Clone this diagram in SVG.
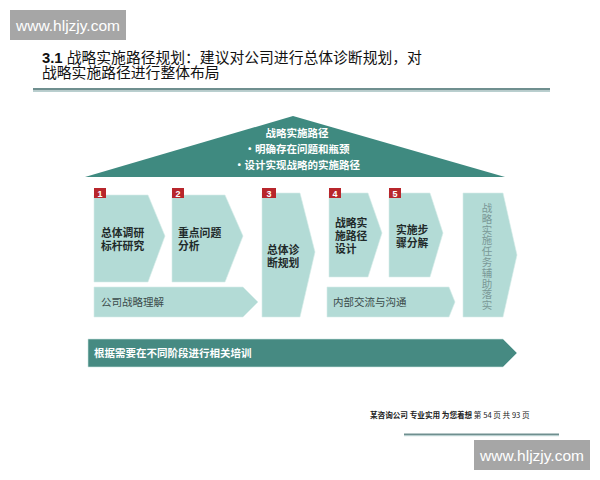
<svg xmlns="http://www.w3.org/2000/svg" width="600" height="480" viewBox="0 0 600 480">
<defs>
<style>
.cjk{font-family:"Liberation Serif","Noto Sans CJK SC",serif;}
.wm{font-family:"Liberation Sans",Arial,sans-serif;font-size:15.5px;fill:#ffffff;}
.chev{fill:#b3dbd6;stroke:#d6ecea;stroke-width:0.6;}
.lbl{font-family:"Noto Sans CJK SC",sans-serif;font-size:10.8px;font-weight:700;fill:#1f2a2a;}
.sub{font-family:"Noto Sans CJK SC",sans-serif;font-size:10.5px;fill:#3a4a4a;}
.badge{fill:#b8262c;}
.num{font-family:"Liberation Sans",Arial,sans-serif;font-size:9px;font-weight:700;fill:#ffffff;text-anchor:middle;}
.roof{font-family:"Noto Sans CJK SC",sans-serif;font-size:10.5px;font-weight:700;fill:#ffffff;text-anchor:middle;}
.vt{font-family:"Noto Sans CJK SC",sans-serif;font-size:10.5px;fill:#7a9896;text-anchor:middle;}
</style>
</defs>
<rect width="600" height="480" fill="#ffffff"/>

<g id="watermark-top">
<rect x="10" y="10" width="116" height="30" fill="#a6a6a6"/>
<text class="wm" x="68" y="31" text-anchor="middle">www.hljzjy.com</text>
</g>

<g id="title">
<text class="cjk" font-size="14.8" fill="#111"><tspan x="42" y="63"><tspan font-weight="700" font-family="Liberation Sans, Arial, sans-serif">3.1 </tspan>战略实施路径规划：建议对公司进行总体诊断规划，对</tspan><tspan x="42" y="78">战略实施路径进行整体布局</tspan></text>
</g>

<g id="header-line">
<rect x="33" y="88" width="517" height="2.5" fill="#6f8f8f"/>
<rect x="33" y="90.5" width="517" height="1.5" fill="#b9cfcf"/>
</g>

<g id="roof">
<polygon points="85,177 293,116 505,177" fill="#3f8a80"/>
<text class="roof"><tspan x="297" y="137">战略实施路径</tspan><tspan x="297" y="153">•明确存在问题和瓶颈</tspan><tspan x="297" y="169">•设计实现战略的实施路径</tspan></text>
</g>

<g id="step1">
<polygon class="chev" points="94,195 148,195 165,236 148,282 94,282"/>
<rect class="badge" x="94" y="188" width="12" height="10"/>
<text class="num" x="100" y="196.5">1</text>
<text class="lbl"><tspan x="101" y="237">总体调研</tspan><tspan x="101" y="250">标杆研究</tspan></text>
</g>

<g id="step2">
<polygon class="chev" points="172,195 225,195 243,236 225,282 172,282"/>
<rect class="badge" x="172" y="188" width="12" height="10"/>
<text class="num" x="178" y="196.5">2</text>
<text class="lbl"><tspan x="178" y="237">重点问题</tspan><tspan x="178" y="250">分析</tspan></text>
</g>

<g id="step3">
<polygon class="chev" points="262,193 300,193 315,252 300,317 262,317"/>
<rect class="badge" x="262" y="188" width="14" height="10"/>
<text class="num" x="269" y="196.5">3</text>
<text class="lbl"><tspan x="267" y="254">总体诊</tspan><tspan x="267" y="267">断规划</tspan></text>
</g>

<g id="step4">
<polygon class="chev" points="329,193 368,193 382,233 368,277 329,277"/>
<rect class="badge" x="329" y="188" width="12" height="10"/>
<text class="num" x="335" y="196.5">4</text>
<text class="lbl"><tspan x="335" y="227">战略实</tspan><tspan x="335" y="240">施路径</tspan><tspan x="335" y="253">设计</tspan></text>
</g>

<g id="step5">
<polygon class="chev" points="389,193 430,193 443,233 430,277 389,277"/>
<rect class="badge" x="389" y="188" width="12" height="10"/>
<text class="num" x="395" y="196.5">5</text>
<text class="lbl"><tspan x="396" y="234">实施步</tspan><tspan x="396" y="247">骤分解</tspan></text>
</g>

<g id="step6">
<polygon class="chev" points="463,193 503,193 517,255 503,317 463,317"/>
<text class="vt"><tspan x="487" y="212">战</tspan><tspan x="487" y="222.8">略</tspan><tspan x="487" y="233.6">实</tspan><tspan x="487" y="244.4">施</tspan><tspan x="487" y="255.2">任</tspan><tspan x="487" y="266">务</tspan><tspan x="487" y="276.8">辅</tspan><tspan x="487" y="287.6">助</tspan><tspan x="487" y="298.4">落</tspan><tspan x="487" y="309.2">实</tspan></text>
</g>

<g id="bar-strategy">
<polygon class="chev" points="94,287 243,287 258,302 243,317 94,317"/>
<text class="sub" x="101" y="305.5">公司战略理解</text>
</g>

<g id="bar-comm">
<polygon class="chev" points="327,287 449,287 455,302 449,317 327,317"/>
<text class="sub" x="333" y="305.5">内部交流与沟通</text>
</g>

<g id="bar-training">
<polygon points="88,339 503,339 517,353 503,367 88,367" fill="#468a82" stroke="#cfe5e2" stroke-width="0.6"/>
<text x="94" y="356.5" font-family="Noto Sans CJK SC, sans-serif" font-size="10.5" font-weight="700" fill="#ffffff">根据需要在不同阶段进行相关培训</text>
</g>

<g id="footer">
<text x="370" y="418" font-family="Noto Sans CJK SC, sans-serif" font-size="7.6" fill="#222"><tspan font-weight="700">某咨询公司 专业实用 为您着想</tspan> 第 54 页 共 93 页</text>
<rect x="404" y="433.5" width="155" height="1.5" fill="#6f8f8f"/>
<rect x="404" y="435" width="155" height="1.2" fill="#b9cfcf"/>
</g>

<g id="watermark-bottom">
<rect x="474" y="440" width="116" height="30" fill="#a6a6a6"/>
<text class="wm" x="532" y="461" text-anchor="middle">www.hljzjy.com</text>
</g>
</svg>
